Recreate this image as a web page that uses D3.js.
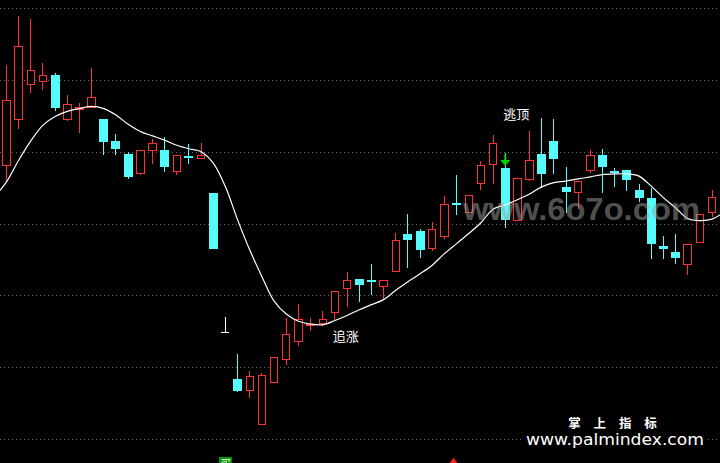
<!DOCTYPE html>
<html><head><meta charset="utf-8">
<script src="https://cdn.jsdelivr.net/npm/d3@7"></script>
<style>html,body{margin:0;padding:0;background:#000;overflow:hidden}</style>
</head><body>
<svg id="c" width="720" height="463"></svg>
<script>
const candleOpen  = [13.81,14.45,14.94,14.97,15.07,14.45,14.59,14.61,14.45,14.15,13.97,13.69,14.01,14.02,13.73,13.94,13.90,13.42,11.48,10.84,10.68,10.20,10.79,11.10,11.36,11.58,11.61,11.76,12.09,12.23,12.22,12.12,12.33,12.86,12.89,12.65,12.82,13.28,13.16,13.55,13.82,13.77,13.04,13.61,13.97,14.15,13.51,13.43,13.74,13.95,13.73,13.75,13.46,13.36,12.69,12.61,12.43,12.74,13.16];
const candleHigh  = [15.21,15.89,15.85,15.23,15.10,14.79,14.68,15.17,14.45,14.25,14.00,14.03,14.17,14.20,13.96,14.11,14.12,13.42,11.70,11.18,10.95,10.92,11.14,11.69,11.88,11.68,11.78,12.06,12.33,12.23,12.44,12.21,12.87,13.13,12.92,13.02,13.38,13.68,13.39,13.87,14.23,13.98,13.63,14.29,14.47,14.45,13.79,13.59,14.02,14.04,13.77,13.75,13.55,13.50,12.83,12.85,12.71,13.13,13.46];
const candleLow   = [13.58,14.31,14.81,14.86,14.56,14.43,14.26,14.61,13.96,13.96,13.62,13.67,13.83,13.72,13.68,13.83,13.90,12.65,11.48,10.66,10.57,10.20,10.79,11.03,11.29,11.51,11.57,11.66,11.84,11.91,12.00,11.95,12.33,12.38,12.52,12.62,12.79,13.12,13.14,13.47,13.55,12.94,13.04,13.59,13.50,13.69,13.14,13.20,13.70,13.43,13.51,13.45,13.30,12.51,12.51,12.44,12.29,12.74,13.09];
const candleClose = [14.71,15.47,15.13,15.06,14.61,14.66,14.62,14.75,14.13,14.04,13.65,14.02,14.11,13.78,13.95,13.92,13.94,12.65,11.48,10.67,10.87,10.88,11.14,11.46,11.67,11.59,11.67,12.06,12.21,12.15,12.18,12.21,12.77,12.77,12.63,12.91,13.27,13.26,13.39,13.81,14.11,13.05,13.63,13.88,13.69,13.90,13.44,13.59,13.94,13.78,13.70,13.61,13.36,12.72,12.64,12.52,12.71,13.13,13.36];
// moving average, starting one bar before the first visible candle and ending one bar after the last
const maStart = -1;
const maValues = [13.37,13.58,13.88,14.15,14.37,14.49,14.56,14.60,14.63,14.60,14.51,14.38,14.28,14.22,14.16,14.09,14.04,14.00,13.84,13.51,13.05,12.63,12.26,11.92,11.74,11.64,11.60,11.59,11.65,11.72,11.80,11.87,11.94,12.07,12.19,12.30,12.42,12.58,12.72,12.86,13.01,13.20,13.26,13.33,13.41,13.51,13.57,13.59,13.62,13.65,13.68,13.69,13.69,13.66,13.52,13.36,13.22,13.07,13.04,13.06,13.16];
const gridValues = [10,11,12,13,14,15,16];
const signalLabels = [{i:41, text:"逃顶", dx:11, value:14.45},{i:26, text:"追涨", dx:23, value:11.37}];
const sellArrowIndex = 41;
const buyMarkIndex = 18;
const watermark = "www.6o7o.com";
const brandTitle = "掌 上 指 标";
const brandUrl = "www.palmindex.com";

const W = 720, H = 463;
const svg = d3.select("#c");
const x = d3.scaleLinear().domain([0, candleOpen.length - 1]).range([6.5, 712]);
const y = d3.scaleLinear().domain([10, 16]).range([439, 8]);

const UP = "#ff3232", DOWN = "#54fcfc", FLAT = "#ffffff";

svg.append("rect").attr("width", W).attr("height", H).attr("fill", "#000");

// grid
svg.append("g").selectAll("line").data(gridValues).join("line")
  .attr("x1", 0).attr("x2", W)
  .attr("y1", d => Math.round(y(d)) + 0.5).attr("y2", d => Math.round(y(d)) + 0.5)
  .attr("stroke", "#6a6a6a").attr("stroke-width", 1).attr("stroke-dasharray", "1,3");

// candles
const data = candleOpen.map((o, i) => ({i, o, h: candleHigh[i], l: candleLow[i], c: candleClose[i]}));
const g = svg.append("g").attr("shape-rendering", "crispEdges");
data.forEach(d => {
  const cx = x(d.i);
  const top = y(Math.max(d.o, d.c)), bot = y(Math.min(d.o, d.c));
  if (d.c > d.o) {
    g.append("line").attr("x1", cx).attr("x2", cx).attr("y1", y(d.h)).attr("y2", top).attr("stroke", UP);
    g.append("line").attr("x1", cx).attr("x2", cx).attr("y1", bot).attr("y2", y(d.l)).attr("stroke", UP);
    g.append("rect").attr("x", cx - 3.7).attr("y", top).attr("width", 7.4).attr("height", Math.max(1, bot - top))
      .attr("fill", "#000").attr("stroke", UP).attr("stroke-width", 1);
  } else if (d.c < d.o) {
    g.append("line").attr("x1", cx).attr("x2", cx).attr("y1", y(d.h)).attr("y2", y(d.l)).attr("stroke", DOWN);
    g.append("rect").attr("x", cx - 4.5).attr("y", top).attr("width", 9).attr("height", Math.max(2, bot - top))
      .attr("fill", DOWN);
  } else {
    g.append("line").attr("x1", cx).attr("x2", cx).attr("y1", y(d.h)).attr("y2", y(d.l)).attr("stroke", FLAT);
    g.append("line").attr("x1", cx - 4).attr("x2", cx + 4).attr("y1", top).attr("y2", top).attr("stroke", FLAT);
  }
});

// MA line
const line = d3.line().x((d, k) => x(k + maStart)).y(d => y(d)).curve(d3.curveCatmullRom);
svg.append("path").attr("d", line(maValues)).attr("fill", "none").attr("stroke", "#fff").attr("stroke-width", 1.2);

// sell arrow
const ax = x(sellArrowIndex), ay = y(candleHigh[sellArrowIndex]);
svg.append("rect").attr("x", ax - 1).attr("y", ay + 1.5).attr("width", 2).attr("height", 6).attr("fill", "#00d000");
svg.append("path").attr("d", `M${ax-5},${ay+7} L${ax+5},${ay+7} L${ax},${ay+13} Z`).attr("fill", "#00d000");

// labels
signalLabels.forEach(s => {
  svg.append("text").attr("x", x(s.i) + s.dx).attr("y", y(s.value))
    .attr("text-anchor", "middle").attr("fill", "#fff")
    .attr("font-family", "'Noto Sans CJK SC', sans-serif").attr("font-size", 13).text(s.text);
});

// buy mark at bottom (clipped by the chart edge, as in the original)
const bx = x(buyMarkIndex);
svg.append("rect").attr("x", bx - 6.5).attr("y", 457).attr("width", 13).attr("height", 14).attr("fill", "#009a00");
svg.append("text").attr("x", bx).attr("y", 468).attr("text-anchor", "middle").attr("fill", "#fff")
  .attr("font-family", "'Noto Sans CJK SC', sans-serif").attr("font-size", 11).text("买");
svg.append("path").attr("d", "M449.5,463 L453.5,458 L457.5,463 Z").attr("fill", "#ff2020");

// watermark
svg.append("text").attr("x", 463).attr("y", 220).attr("fill", "#a0a0a0").attr("fill-opacity", 0.5)
  .attr("font-family", "'Liberation Sans', Arial, sans-serif").attr("font-weight", "bold").attr("font-size", 31)
  .attr("textLength", 237).attr("lengthAdjust", "spacingAndGlyphs").text(watermark);

// brand
svg.append("rect").attr("x", 524).attr("y", 431).attr("width", 181).attr("height", 18).attr("fill", "#000");
svg.append("text").attr("x", 615).attr("y", 427.5).attr("text-anchor", "middle").attr("fill", "#fff")
  .attr("font-family", "'Noto Sans CJK SC', sans-serif").attr("font-weight", "bold").attr("font-size", 12.5)
  .attr("letter-spacing", 5).text(brandTitle);
svg.append("text").attr("x", 526).attr("y", 444.5).attr("fill", "#fff")
  .attr("font-family", "'DejaVu Sans', Verdana, sans-serif").attr("font-size", 15)
  .attr("textLength", 178).attr("lengthAdjust", "spacingAndGlyphs").text(brandUrl);
</script>
</body></html>
